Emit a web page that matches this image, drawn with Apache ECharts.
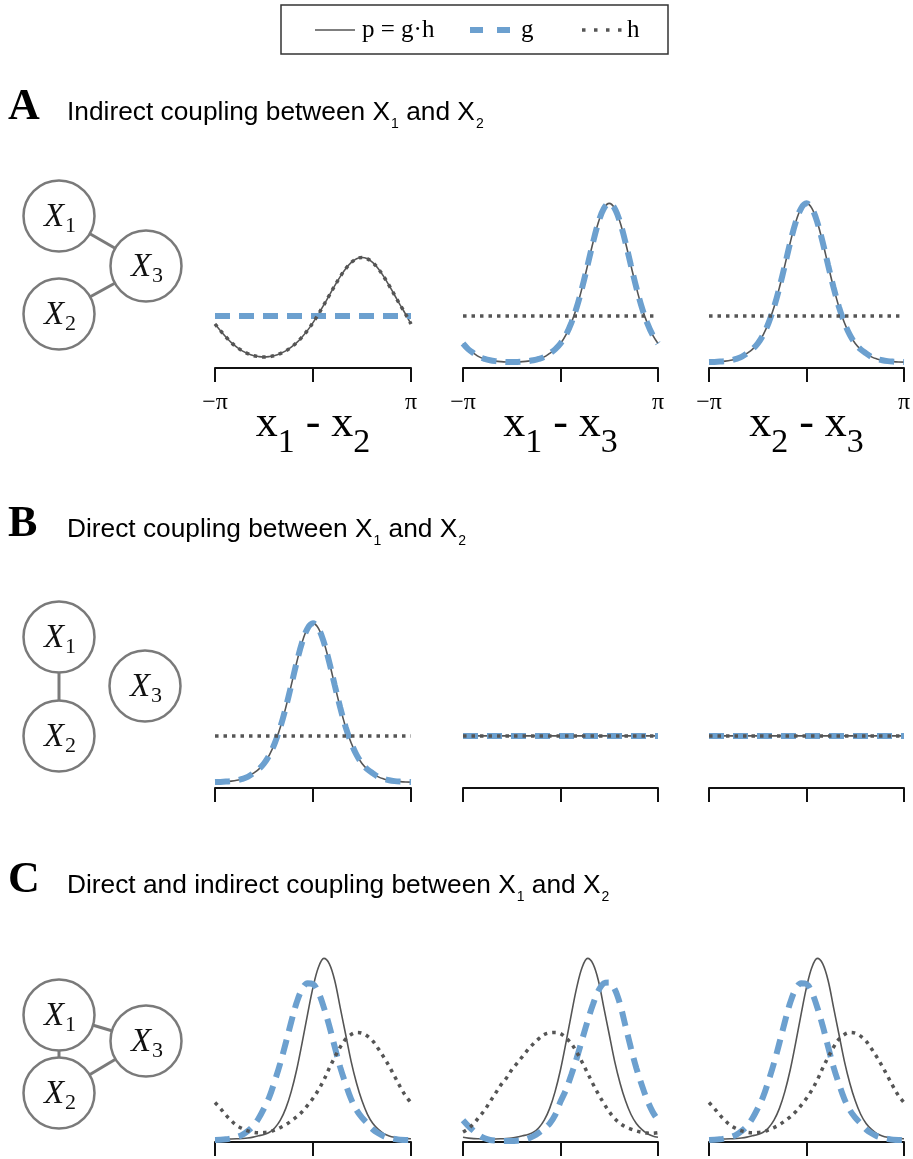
<!DOCTYPE html>
<html><head><meta charset="utf-8">
<script src="https://cdn.jsdelivr.net/npm/echarts@6/dist/echarts.min.js"></script>
<style>html,body{margin:0;padding:0;background:#fff}#c{width:913px;height:1159px}</style>
</head><body><div id="c"></div>
<script>
// ---- data (angle grid in degrees, -pi .. pi) ----
const angles = [-180,-170,-160,-150,-140,-130,-120,-110,-100,-90,-80,-70,-60,-50,-40,-30,-20,-10,0,10,20,30,40,50,60,70,80,90,100,110,120,130,140,150,160,170,180];
const tickLabels = ['\u2212\u03c0', '\u03c0'];
const axisNames = [['1','2'],['1','3'],['2','3']];
const seriesNames = ['p = g\u00b7h', 'g', 'h'];

const levelFlat = [0.31,0.31,0.31,0.31,0.31,0.31,0.31,0.31,0.31,0.31,0.31,0.31,0.31,0.31,0.31,0.31,0.31,0.31,0.31,0.31,0.31,0.31,0.31,0.31,0.31,0.31,0.31,0.31,0.31,0.31,0.31,0.31,0.31,0.31,0.31,0.31,0.31];
const a1Wave = [0.262,0.222,0.185,0.151,0.124,0.102,0.086,0.074,0.068,0.065,0.068,0.074,0.086,0.102,0.124,0.151,0.185,0.224,0.270,0.321,0.376,0.433,0.490,0.544,0.591,0.627,0.650,0.658,0.650,0.627,0.591,0.544,0.490,0.433,0.376,0.321,0.262];
const peakCentre = [0.035,0.036,0.038,0.041,0.046,0.054,0.066,0.087,0.111,0.146,0.197,0.269,0.362,0.479,0.611,0.747,0.867,0.950,0.980,0.950,0.867,0.747,0.611,0.479,0.362,0.269,0.197,0.146,0.111,0.087,0.066,0.054,0.046,0.041,0.038,0.036,0.035];
const peakRight = [0.146,0.111,0.087,0.066,0.054,0.046,0.041,0.038,0.036,0.035,0.036,0.038,0.041,0.046,0.054,0.066,0.087,0.111,0.146,0.197,0.269,0.362,0.479,0.611,0.747,0.867,0.950,0.980,0.950,0.867,0.747,0.611,0.479,0.362,0.269,0.197,0.146];
const c1P = [0.019,0.018,0.018,0.018,0.019,0.021,0.024,0.029,0.037,0.045,0.058,0.085,0.13,0.20,0.30,0.43,0.59,0.76,0.92,1.04,1.093,1.06,0.96,0.80,0.64,0.48,0.35,0.245,0.165,0.11,0.075,0.05,0.036,0.028,0.023,0.020,0.019];
const c1G = [0.012,0.013,0.016,0.022,0.03,0.043,0.065,0.095,0.14,0.20,0.27,0.365,0.47,0.59,0.715,0.83,0.91,0.945,0.94,0.89,0.80,0.69,0.565,0.445,0.345,0.255,0.19,0.145,0.11,0.075,0.052,0.035,0.025,0.018,0.013,0.012,0.012];
const c1H = [0.235,0.20,0.16,0.126,0.098,0.080,0.066,0.058,0.055,0.056,0.061,0.072,0.086,0.103,0.125,0.150,0.180,0.218,0.26,0.31,0.37,0.44,0.505,0.565,0.612,0.640,0.652,0.648,0.630,0.600,0.555,0.505,0.45,0.39,0.33,0.275,0.235];
const c2P = [0.028,0.023,0.020,0.019,0.018,0.018,0.018,0.019,0.021,0.024,0.029,0.037,0.045,0.058,0.085,0.13,0.20,0.30,0.43,0.59,0.76,0.92,1.04,1.093,1.06,0.96,0.80,0.64,0.48,0.35,0.245,0.165,0.11,0.075,0.05,0.036,0.028];
const c2G = [0.13,0.095,0.065,0.04,0.022,0.012,0.008,0.006,0.006,0.006,0.008,0.012,0.02,0.035,0.055,0.08,0.11,0.16,0.24,0.31,0.40,0.50,0.61,0.72,0.82,0.90,0.945,0.95,0.91,0.82,0.69,0.56,0.44,0.34,0.25,0.18,0.13];
const c2H = [0.06,0.08,0.11,0.15,0.19,0.24,0.29,0.34,0.38,0.43,0.47,0.51,0.55,0.585,0.615,0.64,0.65,0.652,0.645,0.62,0.585,0.535,0.475,0.41,0.345,0.285,0.23,0.18,0.14,0.11,0.09,0.077,0.066,0.058,0.053,0.052,0.055];
const c3P = [0.019,0.018,0.018,0.018,0.019,0.021,0.024,0.029,0.037,0.045,0.058,0.085,0.13,0.20,0.30,0.43,0.59,0.76,0.92,1.04,1.093,1.06,0.96,0.80,0.64,0.48,0.35,0.245,0.165,0.11,0.075,0.05,0.036,0.028,0.023,0.020,0.019];
const c3G = [0.012,0.013,0.016,0.022,0.03,0.043,0.065,0.095,0.14,0.20,0.27,0.365,0.47,0.59,0.715,0.83,0.91,0.945,0.94,0.89,0.80,0.69,0.565,0.445,0.345,0.255,0.19,0.145,0.11,0.075,0.052,0.035,0.025,0.018,0.013,0.012,0.012];
const c3H = [0.235,0.20,0.16,0.126,0.098,0.080,0.066,0.058,0.055,0.056,0.061,0.072,0.086,0.103,0.125,0.150,0.180,0.218,0.26,0.31,0.37,0.44,0.505,0.565,0.612,0.640,0.652,0.648,0.630,0.600,0.555,0.505,0.45,0.39,0.33,0.275,0.235];

// panel -> [p, g, h]
const panels = [
  [a1Wave, levelFlat, a1Wave], [peakRight, peakRight, levelFlat], [peakCentre, peakCentre, levelFlat],
  [peakCentre, peakCentre, levelFlat], [levelFlat, levelFlat, levelFlat], [levelFlat, levelFlat, levelFlat],
  [c1P, c1G, c1H], [c2P, c2G, c2H], [c3P, c3G, c3H]
];
const rowTitles = [
  ['A', 'Indirect coupling between X', ' and X'],
  ['B', 'Direct coupling between X', ' and X'],
  ['C', 'Direct and indirect coupling between X', ' and X']
];

// ---- layout ----
const colLeft = [215, 463, 709], colWidth = [196, 195, 195];
const rowAxisY = [368, 788, 1142];
const rowBaseline = [123, 540, 896];
const yMax = 1.2, unitPx = 168;
const BLUE = '#6ca0cf', GREY = '#555555', NODE = '#7a7a7a';
const SERIF = '"Liberation Serif", "DejaVu Serif", serif';
const SANS = '"Liberation Sans", Arial, sans-serif';

const grid = [], xAxis = [], yAxis = [], series = [];
for (let r = 0; r < 3; r++) {
  for (let c = 0; c < 3; c++) {
    const k = r * 3 + c;
    grid.push({left: colLeft[c], top: rowAxisY[r] - yMax * unitPx, width: colWidth[c], height: yMax * unitPx, containLabel: false, outerBoundsMode: 'none'});
    const xa = {
      type: 'category', gridIndex: k, data: angles, boundaryGap: false,
      axisLine: {show: true, onZero: false, lineStyle: {color: '#111', width: 2}},
      axisTick: {show: true, interval: 17, length: 14, lineStyle: {color: '#111', width: 2}},
      splitLine: {show: false},
      axisLabel: {show: false}
    };
    if (r === 0) {
      xa.axisLabel = {
        show: true, interval: (i) => i === 0 || i === angles.length - 1,
        formatter: (v, i) => (i === 0 ? tickLabels[0] : tickLabels[1]),
        fontFamily: SERIF, fontSize: 24, color: '#000', margin: 23,
        showMinLabel: true, showMaxLabel: true, hideOverlap: false
      };
      xa.name = '{x|x}{s|' + axisNames[c][0] + '}{x| - x}{s|' + axisNames[c][1] + '}';
      xa.nameLocation = 'middle';
      xa.nameGap = 34;
      xa.nameMoveOverlap = false;
      xa.nameTextStyle = {
        verticalAlign: 'top',
        rich: {
          x: {fontFamily: SERIF, fontSize: 44, lineHeight: 44, verticalAlign: 'top', color: '#000'},
          s: {fontFamily: SERIF, fontSize: 34, lineHeight: 34, verticalAlign: 'top', padding: [24, 0, 0, 0], color: '#000'}
        }
      };
    }
    xAxis.push(xa);
    yAxis.push({type: 'value', gridIndex: k, min: 0, max: yMax, show: false});
    const [pd, gd, hd] = panels[k];
    const common = {type: 'line', xAxisIndex: k, yAxisIndex: k, showSymbol: false, symbol: 'none', silent: true, clip: false, animation: false, smooth: 0.35};
    series.push(Object.assign({}, common, {name: seriesNames[0], data: pd, z: 2, lineStyle: {color: GREY, width: 1.6}}));
    series.push(Object.assign({}, common, {name: seriesNames[1], data: gd, z: 3, lineStyle: {color: BLUE, width: 6, type: [15, 9], cap: 'butt'}}));
    series.push(Object.assign({}, common, {name: seriesNames[2], data: hd, z: 4, lineStyle: {color: GREY, width: 3.5, type: [3.5, 5], cap: 'butt'}}));
  }
}

// ---- graphics: legend, headings, network diagrams ----
const g = [];
// legend
g.push({type: 'rect', shape: {x: 281, y: 5, width: 387, height: 49}, style: {fill: '#fff', stroke: '#333', lineWidth: 1.5}, z: 10});
g.push({type: 'line', shape: {x1: 315, y1: 30, x2: 355, y2: 30}, style: {stroke: GREY, lineWidth: 1.6}, z: 11});
g.push({type: 'text', x: 362, y: 30, style: {text: seriesNames[0], font: '25px ' + SERIF, fill: '#000', verticalAlign: 'middle', align: 'left'}, z: 11});
g.push({type: 'line', shape: {x1: 470, y1: 30, x2: 512, y2: 30}, style: {stroke: BLUE, lineWidth: 6, lineDash: [13, 14], lineCap: 'butt'}, z: 11});
g.push({type: 'text', x: 521, y: 30, style: {text: seriesNames[1], font: '25px ' + SERIF, fill: '#000', verticalAlign: 'middle', align: 'left'}, z: 11});
g.push({type: 'line', shape: {x1: 582, y1: 30, x2: 622, y2: 30}, style: {stroke: GREY, lineWidth: 3.5, lineDash: [3.5, 8.5], lineCap: 'butt'}, z: 11});
g.push({type: 'text', x: 627, y: 30, style: {text: seriesNames[2], font: '25px ' + SERIF, fill: '#000', verticalAlign: 'middle', align: 'left'}, z: 11});

// headings
for (let r = 0; r < 3; r++) {
  const b = rowBaseline[r];
  g.push({type: 'text', x: 8, y: b - 15, style: {text: rowTitles[r][0], font: 'bold 44px ' + SERIF, fill: '#000', verticalAlign: 'middle', align: 'left'}, z: 11});
  g.push({type: 'text', x: 67, y: b - 23, style: {
    text: '{t|' + rowTitles[r][1] + '}{s|1}{t|' + rowTitles[r][2] + '}{s|2}',
    verticalAlign: 'top', align: 'left',
    rich: {
      t: {fontFamily: SANS, fontSize: 26.3, lineHeight: 26, verticalAlign: 'top', fill: '#000', color: '#000'},
      s: {fontFamily: SANS, fontSize: 14, lineHeight: 14, verticalAlign: 'top', padding: [17, 0, 0, 1], fill: '#000', color: '#000'}
    }
  }, z: 11});
}

// network diagrams
const nets = [
  {nodes: [[59, 216], [59, 314], [146, 266]], edges: [[0, 2], [1, 2]]},
  {nodes: [[59, 637], [59, 736], [145, 686]], edges: [[0, 1]]},
  {nodes: [[59, 1015], [59, 1093], [146, 1041]], edges: [[0, 1], [0, 2], [1, 2]]}
];
nets.forEach(net => {
  net.edges.forEach(([a, b]) => {
    g.push({type: 'line', shape: {x1: net.nodes[a][0], y1: net.nodes[a][1], x2: net.nodes[b][0], y2: net.nodes[b][1]}, style: {stroke: NODE, lineWidth: 3}, z: 11});
  });
  net.nodes.forEach(([cx, cy], i) => {
    g.push({type: 'circle', shape: {cx: cx, cy: cy, r: 35.5}, style: {fill: '#fff', stroke: NODE, lineWidth: 2.5}, z: 12});
    g.push({type: 'text', x: cx + 1, y: cy - 15, style: {
      text: '{X|X}{s|' + (i + 1) + '}', align: 'center', verticalAlign: 'top',
      rich: {
        X: {fontFamily: SERIF, fontStyle: 'italic', fontSize: 33, lineHeight: 33, verticalAlign: 'top', fill: '#111', color: '#111'},
        s: {fontFamily: SERIF, fontSize: 22, lineHeight: 22, verticalAlign: 'top', padding: [14, 0, 0, 1], fill: '#111', color: '#111'}
      }
    }, z: 13});
  });
});

const chart = echarts.init(document.getElementById('c'), null, {renderer: 'canvas', width: 913, height: 1159});
chart.setOption({
  backgroundColor: '#fff',
  animation: false,
  grid: grid, xAxis: xAxis, yAxis: yAxis, series: series,
  graphic: {elements: g}
});
</script>
</body></html>
